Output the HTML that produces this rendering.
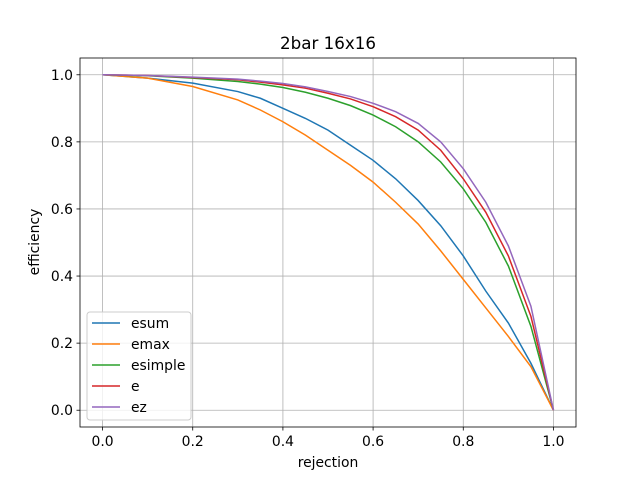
<!DOCTYPE html>
<html><head><meta charset="utf-8"><style>
body{margin:0;background:#fff;font-family:"DejaVu Sans","Liberation Sans",sans-serif;}
svg text{font-family:"DejaVu Sans","Liberation Sans",sans-serif;}
</style></head><body>
<svg id="chart" width="640" height="480" xmlns="http://www.w3.org/2000/svg">
<rect width="640" height="480" fill="#fff"/>
<g id="grid"></g>
<g id="series"></g>
<rect x="80" y="58" width="496" height="369" fill="none" stroke="#000" stroke-width="0.8"/>
<g id="ticks"></g>
<text x="328" y="49" text-anchor="middle" font-size="16.7">2bar 16x16</text>
<text x="328" y="467" text-anchor="middle" font-size="13.9">rejection</text>
<text x="39" y="242" text-anchor="middle" font-size="13.9" transform="rotate(-90 39 242)">efficiency</text>
<g id="legend"></g>
</svg>
<script>
const xTicks=[0,0.2,0.4,0.6,0.8,1.0];
const yTicks=[0,0.2,0.4,0.6,0.8,1.0];
const rej=[0,0.1,0.2,0.3,0.35,0.4,0.45,0.5,0.55,0.6,0.65,0.7,0.75,0.8,0.85,0.9,0.95,1.0];
const esum=[1,0.99,0.975,0.95,0.93,0.9,0.87,0.835,0.79,0.745,0.69,0.625,0.55,0.46,0.355,0.26,0.14,0];
const emax=[1,0.99,0.965,0.925,0.895,0.86,0.82,0.775,0.73,0.68,0.62,0.555,0.475,0.39,0.305,0.22,0.13,0];
const esimple=[1,0.997,0.99,0.98,0.972,0.962,0.948,0.93,0.908,0.88,0.845,0.8,0.74,0.66,0.56,0.43,0.25,0];
const e=[1,0.998,0.992,0.985,0.978,0.97,0.96,0.945,0.928,0.905,0.875,0.835,0.775,0.69,0.59,0.46,0.28,0];
const ez=[1,0.998,0.993,0.987,0.981,0.974,0.964,0.95,0.935,0.915,0.89,0.855,0.8,0.72,0.62,0.49,0.31,0];
const names=["esum","emax","esimple","e","ez"];
const colors=["#1f77b4","#ff7f0e","#2ca02c","#d62728","#9467bd"];
const all=[esum,emax,esimple,e,ez];
const NS="http://www.w3.org/2000/svg";
const X=v=>80+(v+0.05)/1.1*496, Y=v=>427-(v+0.05)/1.1*369;
function mk(t,a,p){const el=document.createElementNS(NS,t);for(const k in a)el.setAttribute(k,a[k]);p.appendChild(el);return el;}
const grid=document.getElementById('grid'),ticks=document.getElementById('ticks');
xTicks.forEach(t=>{const x=X(t);
const g=mk('line',{x1:x,x2:x,y1:58,y2:427,stroke:'#b0b0b0','stroke-width':0.8},grid);


mk('line',{x1:x,x2:x,y1:427,y2:430.5,stroke:'#000','stroke-width':0.8},ticks);
const tx=mk('text',{x:x,y:446,'text-anchor':'middle','font-size':13.9},ticks);tx.textContent=t.toFixed(1);

});
yTicks.forEach(t=>{const y=Y(t);
const g=mk('line',{x1:80,x2:576,y1:y,y2:y,stroke:'#b0b0b0','stroke-width':0.8},grid);


mk('line',{x1:76.5,x2:80,y1:y,y2:y,stroke:'#000','stroke-width':0.8},ticks);
const tx=mk('text',{x:73,y:y+5,'text-anchor':'end','font-size':13.9},ticks);tx.textContent=t.toFixed(1);

});
const ser=document.getElementById('series');
all.forEach((s,i)=>{const p=mk('polyline',{points:s.map((v,j)=>X(rej[j])+','+Y(v)).join(' '),fill:'none',stroke:colors[i],'stroke-width':1.5},ser);

});
const lg=document.getElementById('legend');
const box=mk('rect',{x:87,y:312,width:104,height:108,rx:3,fill:'#fff','fill-opacity':0.8,stroke:'#ccc'},lg);


names.forEach((n,i)=>{const y=323+i*21;
mk('line',{x1:92,x2:120,y1:y,y2:y,stroke:colors[i],'stroke-width':1.5},lg);
const t=mk('text',{x:131,y:y+5,'font-size':13.9},lg);t.textContent=n;

});
</script>
</body></html>
